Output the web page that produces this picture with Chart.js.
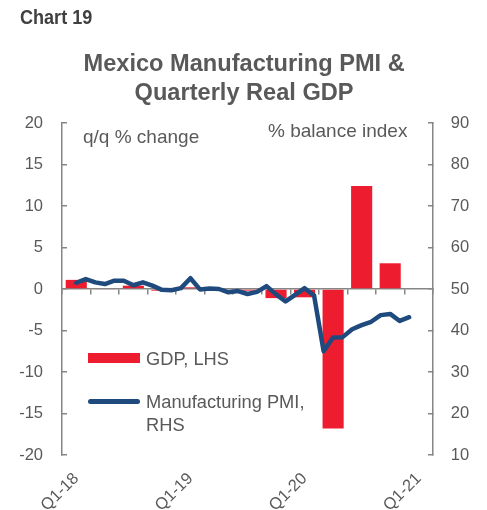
<!DOCTYPE html>
<html><head><meta charset="utf-8">
<script src="https://cdn.jsdelivr.net/npm/chart.js@4"></script>
<style>
html,body{margin:0;padding:0;background:#fff;overflow:hidden;}
#wrap{position:relative;width:487px;height:510px;overflow:hidden;background:#fff;}
canvas{position:absolute;left:0;top:0;}
.t{position:absolute;font-family:'Liberation Sans',Arial,sans-serif;color:#595959;white-space:nowrap;}
.sw{position:absolute;}
</style></head><body>
<div id="wrap">
<canvas id="c" width="487" height="542"></canvas>
<div class="t" style="left:20px;top:5.5px;font-size:21px;line-height:21px;font-weight:bold;color:#404040;transform:scaleX(0.86);transform-origin:0 0;">Chart 19</div>
<div class="t" style="left:83px;top:127px;font-size:19px;line-height:19px;">q/q % change</div>
<div class="t" style="left:268px;top:121px;font-size:19px;line-height:19px;">% balance index</div>
<div class="sw" id="swBar" style="left:88px;top:353px;width:52px;height:10px;"></div>
<div class="t" style="left:146px;top:346.5px;font-size:18.3px;line-height:23px;">GDP, LHS</div>
<div class="sw" id="swLine" style="left:88px;top:399px;width:52px;height:4.5px;border-radius:3px;"></div>
<div class="t" style="left:146px;top:389.5px;font-size:18.3px;line-height:23px;">Manufacturing PMI,<br>RHS</div>
</div>
<script>
// ---- data ----
const quarters = ['Q1-18','Q2-18','Q3-18','Q4-18','Q1-19','Q2-19','Q3-19','Q4-19','Q1-20','Q2-20','Q3-20','Q4-20','Q1-21'];
const gdpQoQ = [1.1, -0.1, 0.4, -0.2, 0.2, 0.0, -0.2, -1.1, -1.0, -16.8, 12.4, 3.1, null];
const months = ['Jan-18','Feb-18','Mar-18','Apr-18','May-18','Jun-18','Jul-18','Aug-18','Sep-18','Oct-18','Nov-18','Dec-18',
                'Jan-19','Feb-19','Mar-19','Apr-19','May-19','Jun-19','Jul-19','Aug-19','Sep-19','Oct-19','Nov-19','Dec-19',
                'Jan-20','Feb-20','Mar-20','Apr-20','May-20','Jun-20','Jul-20','Aug-20','Sep-20','Oct-20','Nov-20','Dec-20',
                'Jan-21','Feb-21','Mar-21'];
const pmiMonths = ['Feb-18','Mar-18','Apr-18','May-18','Jun-18','Jul-18','Aug-18','Sep-18','Oct-18','Nov-18','Dec-18',
                   'Jan-19','Feb-19','Mar-19','Apr-19','May-19','Jun-19','Jul-19','Aug-19','Sep-19','Oct-19','Nov-19','Dec-19',
                   'Jan-20','Feb-20','Mar-20','Apr-20','May-20','Jun-20','Jul-20','Aug-20','Sep-20','Oct-20','Nov-20','Dec-20',
                   'Jan-21'];
const pmi = [51.5, 52.4, 51.6, 51.2, 52.0, 52.0, 50.9, 51.6, 50.8, 49.8, 49.7,
             50.2, 52.6, 49.9, 50.1, 50.0, 49.2, 49.5, 48.8, 49.3, 50.7, 48.7, 47.0,
             48.6, 50.2, 48.4, 35.0, 38.3, 38.4, 40.3, 41.3, 42.1, 43.7, 44.0, 42.3,
             43.2];
const xTickLabels = ['Q1-18','Q1-19','Q1-20','Q1-21'];
const lhsRange = [-20, 20, 5];
const rhsRange = [10, 90, 10];

// ---- styles ----
const RED = '#ED1C2E', BLUE = '#1F4A7D', AXIS = '#868686', TXT = '#595959';
const FONT = "'Liberation Sans', Arial, sans-serif";
document.getElementById('swBar').style.background = RED;
document.getElementById('swLine').style.background = BLUE;
const noSidePad = (s) => { s.paddingLeft = 0; s.paddingRight = 0; };

new Chart(document.getElementById('c'), {
  type: 'bar',
  data: {
    labels: quarters,
    datasets: [
      {
        type: 'line', label: 'Manufacturing PMI, RHS',
        data: pmi.map((v, i) => ({x: pmiMonths[i], y: v})),
        xAxisID: 'x2', yAxisID: 'y2',
        borderColor: BLUE, borderWidth: 4.5, pointRadius: 0, tension: 0,
        borderJoinStyle: 'round', borderCapStyle: 'round', order: 0
      },
      {
        type: 'bar', label: 'GDP, LHS', data: gdpQoQ,
        xAxisID: 'x', yAxisID: 'y', grouped: false,
        backgroundColor: RED, borderWidth: 0,
        categoryPercentage: 1.0, barPercentage: 0.74, order: 1
      }
    ]
  },
  options: {
    responsive: false, animation: false, devicePixelRatio: 1,
    layout: {padding: {left: 19.2, right: 18, top: 0, bottom: 12.6}},
    plugins: {
      legend: {display: false},
      tooltip: {enabled: false},
      title: {
        display: true, text: ['Mexico Manufacturing PMI &', 'Quarterly Real GDP'], align: 'center', color: TXT,
        font: {family: FONT, size: 23.6, weight: 'bold', lineHeight: 1.24},
        padding: {top: 49.4, bottom: 15.1}
      }
    },
    scales: {
      x: {
        type: 'category', position: 'bottom', offset: true,
        grid: {display: false, drawTicks: false, offset: true},
        border: {display: false},
        afterFit: noSidePad,
        ticks: {
          autoSkip: false, maxRotation: 45, minRotation: 45, padding: 14,
          color: TXT, font: {family: FONT, size: 16.5},
          callback: function (v, i) { const l = quarters[i]; return xTickLabels.includes(l) ? l : ''; }
        }
      },
      xZero: {
        type: 'category', labels: quarters, position: {y: 0}, offset: true,
        grid: {display: true, drawOnChartArea: false, drawTicks: true, tickLength: 5, offset: true, color: AXIS, lineWidth: 1.5},
        border: {display: true, color: AXIS, width: 1.5},
        afterFit: noSidePad,
        ticks: {display: false}
      },
      x2: {
        type: 'category', labels: months, offset: true, display: false,
        afterFit: noSidePad,
        grid: {offset: true}
      },
      y: {
        type: 'linear', position: 'left', min: lhsRange[0], max: lhsRange[1],
        grid: {display: true, drawOnChartArea: false, drawTicks: true, tickLength: -5, color: AXIS, lineWidth: 1.5},
        border: {display: true, color: AXIS, width: 1.5},
        afterFit: (s) => { s.width = 42.8; },
        ticks: {stepSize: lhsRange[2], padding: 24, color: TXT, font: {family: FONT, size: 16.5}}
      },
      y2: {
        type: 'linear', position: 'right', min: rhsRange[0], max: rhsRange[1],
        grid: {display: true, drawOnChartArea: false, drawTicks: true, tickLength: -5, color: AXIS, lineWidth: 1.5},
        border: {display: true, color: AXIS, width: 1.5},
        afterFit: (s) => { s.width = 36; },
        ticks: {stepSize: rhsRange[2], padding: 22.7, color: TXT, font: {family: FONT, size: 16.5}}
      }
    }
  }
});
</script>
</body></html>
